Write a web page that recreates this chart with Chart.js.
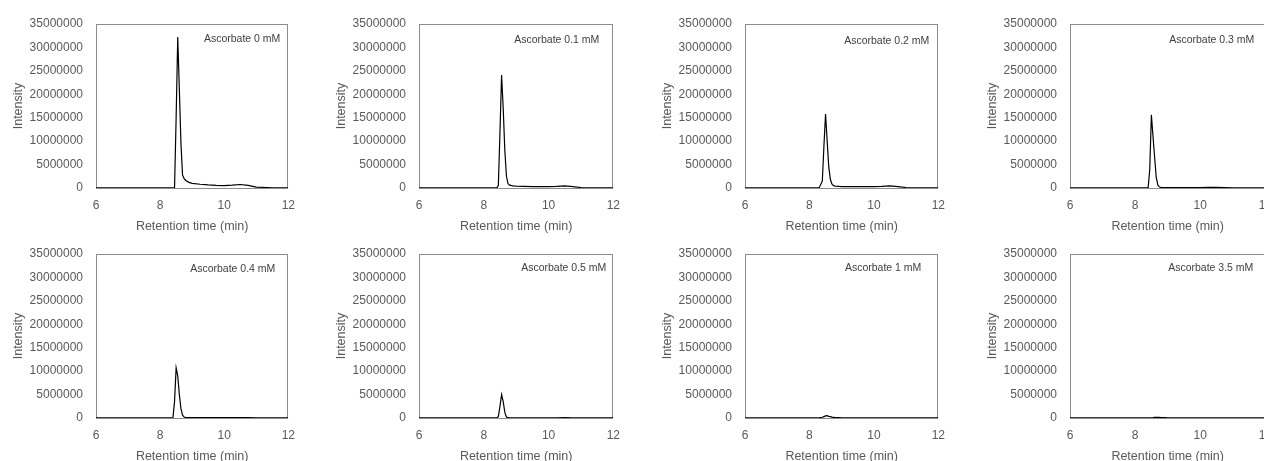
<!DOCTYPE html>
<html><head><meta charset="utf-8">
<script src="https://cdn.jsdelivr.net/npm/chart.js@4/dist/chart.umd.min.js"></script>
<style>
html,body{margin:0;padding:0;background:#fff;overflow:hidden;width:1264px;height:461px;position:relative;}
canvas{position:absolute;}
</style></head><body>
<script>
// ---- data ----
const retentionTime = [6, 7, 8, 8.3, 8.4, 8.45, 8.5, 8.55, 8.6, 8.65, 8.7, 8.75, 8.8, 8.9, 9, 9.25, 9.5, 9.75, 10, 10.25, 10.5, 10.75, 11, 11.5, 12];
const panelLabels = ["Ascorbate 0 mM", "Ascorbate 0.1 mM", "Ascorbate 0.2 mM", "Ascorbate 0.3 mM",
                     "Ascorbate 0.4 mM", "Ascorbate 0.5 mM", "Ascorbate 1 mM", "Ascorbate 3.5 mM"];
const intensity0mM   = [20000, 20000, 20000, 20000, 20000, 20000, 15000000, 32200000, 21000000, 9500000, 2800000, 2000000, 1600000, 1200000, 1000000, 800000, 650000, 550000, 500000, 600000, 750000, 550000, 200000, 50000, 20000];
const intensity01mM  = [20000, 20000, 20000, 20000, 20000, 500000, 12000000, 24100000, 17000000, 8000000, 2500000, 900000, 600000, 450000, 400000, 350000, 300000, 300000, 300000, 350000, 450000, 300000, 100000, 30000, 20000];
const intensity02mM  = [20000, 20000, 20000, 20000, 1500000, 9000000, 15800000, 10000000, 4500000, 1800000, 800000, 500000, 400000, 350000, 300000, 300000, 300000, 300000, 300000, 350000, 450000, 300000, 100000, 30000, 20000];
const intensity03mM  = [20000, 20000, 20000, 20000, 20000, 4000000, 15600000, 11000000, 6500000, 2200000, 600000, 200000, 120000, 100000, 100000, 100000, 100000, 100000, 100000, 120000, 150000, 100000, 50000, 20000, 20000];
const intensity04mM  = [20000, 20000, 20000, 20000, 20000, 3500000, 10700000, 9000000, 5000000, 2000000, 600000, 200000, 100000, 100000, 100000, 100000, 100000, 100000, 100000, 100000, 100000, 80000, 50000, 20000, 20000];
const intensity05mM  = [20000, 20000, 20000, 20000, 20000, 300000, 2500000, 5000000, 3500000, 1200000, 200000, 60000, 50000, 50000, 50000, 50000, 50000, 50000, 50000, 50000, 60000, 50000, 30000, 20000, 20000];
const intensity1mM   = [20000, 20000, 20000, 20000, 150000, 300000, 450000, 500000, 350000, 280000, 200000, 150000, 100000, 60000, 30000, 20000, 20000, 20000, 20000, 20000, 20000, 20000, 20000, 20000, 20000];
const intensity35mM  = [20000, 20000, 20000, 20000, 20000, 30000, 50000, 80000, 120000, 140000, 150000, 130000, 100000, 60000, 30000, 20000, 20000, 20000, 20000, 20000, 20000, 20000, 20000, 20000, 20000];
const xTickValues = [6, 8, 10, 12];
const yTickValues = [0, 5000000, 10000000, 15000000, 20000000, 25000000, 30000000, 35000000];
const allSeries = [intensity0mM, intensity01mM, intensity02mM, intensity03mM, intensity04mM, intensity05mM, intensity1mM, intensity35mM];

// ---- layout (positions/sizes) ----
const colPlotLeft = [96, 419, 745, 1070];
const colPlotWidth = [192, 194, 193, 195];
const rowTop = [0, 230];
const labelRightOffset = [8, 14, 9, 11, 13, 7, 17, 12];
const labelTopOffset = [15, 16, 17, 16, 15, 14, 14, 14];
const Y_AXIS_W = 96, PAD_TOP = 24, PAD_RIGHT = 12, CANVAS_H = 240, X_AXIS_H = 52;
const textColor = '#595959';
const FONT = '"Liberation Sans", Arial, sans-serif';

const decor = {
  id: 'decor',
  beforeDatasetsDraw(chart, args, opts) {
    const {ctx, chartArea: a} = chart;
    ctx.save();
    ctx.strokeStyle = '#8c8c8c';
    ctx.lineWidth = 1;
    const l = Math.round(a.left) + 0.5, t = Math.round(a.top) + 0.5;
    const r = Math.round(a.right) - 0.5, b = Math.round(a.bottom) + 0.5;
    ctx.strokeRect(l, t, r - l, b - t);
    ctx.restore();
  },
  afterDraw(chart, args, opts) {
    const {ctx, chartArea: a} = chart;
    ctx.save();
    ctx.font = '10.5px ' + FONT;
    ctx.fillStyle = '#404040';
    ctx.textAlign = 'right';
    ctx.textBaseline = 'middle';
    ctx.fillText(opts.text, a.right - opts.dx, a.top + opts.dy);
    ctx.restore();
  }
};

function makeConfig(series, i) {
  return {
    type: 'line',
    data: {
      datasets: [{
        data: retentionTime.map((t, k) => ({x: t, y: series[k]})),
        borderColor: '#000000',
        borderWidth: 1.2,
        pointRadius: 0,
        tension: 0,
        fill: false
      }]
    },
    options: {
      responsive: false,
      devicePixelRatio: 1,
      animation: false,
      layout: {padding: {top: PAD_TOP, right: PAD_RIGHT, left: 0, bottom: 0}},
      plugins: {
        legend: {display: false},
        tooltip: {enabled: false},
        decor: {text: panelLabels[i], dx: labelRightOffset[i], dy: labelTopOffset[i]}
      },
      scales: {
        x: {
          type: 'linear', min: 6, max: 12,
          afterBuildTicks: s => { s.ticks = xTickValues.map(v => ({value: v})); },
          afterFit: s => { s.height = X_AXIS_H; },
          grid: {display: false, drawTicks: false},
          border: {display: false},
          ticks: {color: textColor, font: {size: 12, family: FONT}, padding: 10, maxRotation: 0},
          title: {display: true, text: 'Retention time (min)', color: textColor,
                  font: {size: 12.5, family: FONT}, padding: {top: 0, bottom: 6}}
        },
        y: {
          type: 'linear', min: 0, max: 35000000,
          afterBuildTicks: s => { s.ticks = yTickValues.map(v => ({value: v})); },
          afterFit: s => { s.width = Y_AXIS_W; },
          grid: {display: false, drawTicks: false},
          border: {display: false},
          ticks: {color: textColor, font: {size: 12, family: FONT}, padding: 13,
                  callback: v => String(v)},
          title: {display: true, text: 'Intensity', color: textColor,
                  font: {size: 12.5, family: FONT}, padding: {top: 11, bottom: 0}}
        }
      }
    },
    plugins: [decor]
  };
}

allSeries.forEach((series, i) => {
  const col = i % 4, row = Math.floor(i / 4);
  const desiredRight = Y_AXIS_W + colPlotWidth[col];
  let w = desiredRight + PAD_RIGHT;
  const cv = document.createElement('canvas');
  cv.width = w; cv.height = CANVAS_H;
  cv.style.left = (colPlotLeft[col] - Y_AXIS_W) + 'px';
  cv.style.top = rowTop[row] + 'px';
  cv.style.width = w + 'px'; cv.style.height = CANVAS_H + 'px';
  document.body.appendChild(cv);
  let chart = new Chart(cv, makeConfig(series, i));
  const diff = Math.round(desiredRight - chart.chartArea.right);
  if (diff !== 0) {
    chart.destroy();
    w += diff;
    cv.width = w; cv.height = CANVAS_H;
    cv.style.width = w + 'px'; cv.style.height = CANVAS_H + 'px';
    chart = new Chart(cv, makeConfig(series, i));
  }
});
</script>
</body></html>
